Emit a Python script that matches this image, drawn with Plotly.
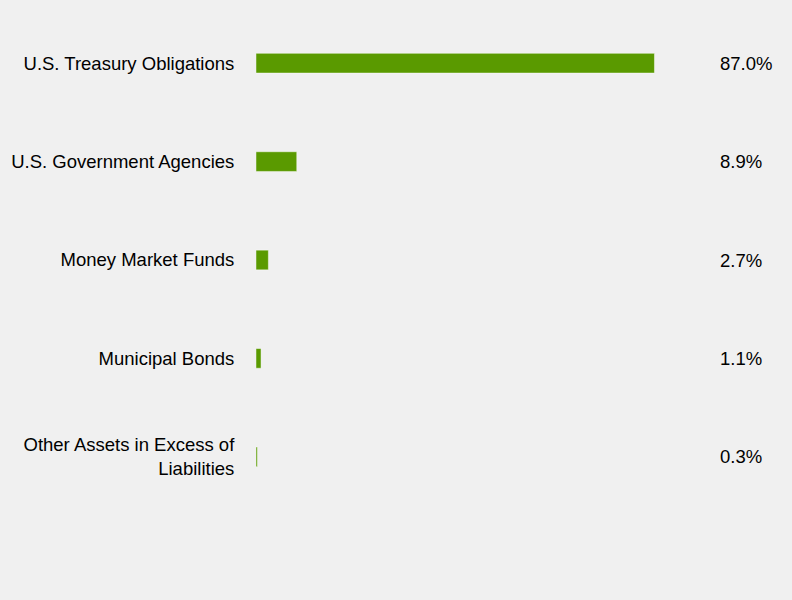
import plotly.graph_objects as go

# holdings breakdown
categories = ["U.S. Treasury Obligations", "U.S. Government Agencies",
              "Money Market Funds", "Municipal Bonds",
              "Other Assets in Excess of<br>Liabilities"]
values = [87.0, 8.9, 2.7, 1.1, 0.3]
value_labels = ["87.0%", "8.9%", "2.7%", "1.1%", "0.3%"]

bar_color = "#5a9a00"

fig = go.Figure(go.Bar(
    x=values,
    y=categories,
    orientation="h",
    width=0.2,
    marker=dict(color=bar_color, line=dict(color="rgba(255,255,255,0.45)", width=1)),
    hoverinfo="skip",
))

# value labels at the right side
for cat, lab in zip(categories, value_labels):
    fig.add_annotation(x=1, xref="paper", y=cat, yref="y", text=lab,
                       showarrow=False, xanchor="left", xshift=4,
                       font=dict(size=18.5, color="#000000"))

fig.update_layout(
    width=792, height=600,
    paper_bgcolor="#f0f0f0", plot_bgcolor="#f0f0f0",
    margin=dict(l=256, r=78, t=14, b=94, autoexpand=False),
    font=dict(family="Liberation Sans, Arial, sans-serif", size=18.5, color="#000000"),
    showlegend=False,
    bargap=0.8,
)
fig.update_xaxes(range=[0, 100], visible=False, showgrid=False, zeroline=False,
                 automargin=False)
fig.update_yaxes(autorange="reversed", showgrid=False, zeroline=False, showline=False,
                 ticks="outside", ticklen=17, tickcolor="rgba(0,0,0,0)",
                 automargin=False)

fig.write_html("out.html", config={"displayModeBar": False},
               post_script="document.body.style.margin='0';"
               "document.body.style.background='#f0f0f0';")
